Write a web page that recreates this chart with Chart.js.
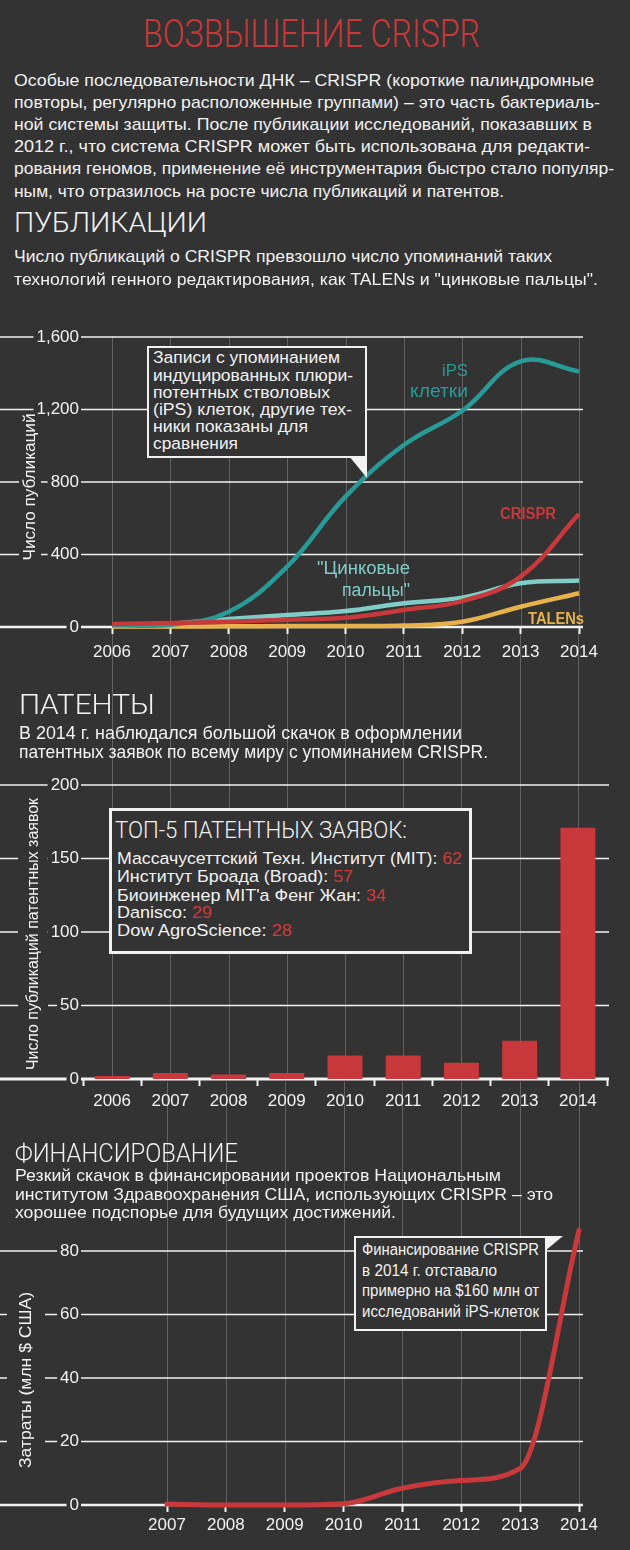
<!DOCTYPE html>
<html><head><meta charset="utf-8">
<script src="https://cdn.jsdelivr.net/npm/chart.js@4"></script>
<style>
html,body{margin:0;padding:0;}
body{width:630px;height:1550px;background:#333333;position:relative;overflow:hidden;font-family:'Liberation Sans',Arial,sans-serif;color:#f2f2f2;}
canvas{position:absolute;left:0;}
.t{position:absolute;white-space:nowrap;transform-origin:0 0;z-index:6;}
.h{font-family:Roboto,'Liberation Sans',sans-serif;font-weight:300;}
.rt{position:absolute;white-space:nowrap;z-index:5;text-align:center;}
.box{position:absolute;box-sizing:border-box;border:2px solid #f2f2f2;background:#333333;z-index:5;}
.tri{position:absolute;background:#f2f2f2;z-index:5;}
.r{color:#d0393b;}
</style></head><body>
<canvas id="c1" width="630" height="370" style="top:300px;z-index:3"></canvas>
<canvas id="c2" width="630" height="490" style="top:630px;z-index:2"></canvas>
<canvas id="c3" width="630" height="468" style="top:1082px;z-index:1"></canvas>

<div class="t h" data-x="143" data-b="48" data-fs="39" data-w="337" style="color:#c9383a">ВОЗВЫШЕНИЕ CRISPR</div>
<div class="t" data-x="14" data-b="86" data-fs="17" data-w="580">Особые последовательности ДНК – CRISPR (короткие палиндромные</div>
<div class="t" data-x="14" data-b="108.2" data-fs="17" data-w="586">повторы, регулярно расположенные группами) – это часть бактериаль-</div>
<div class="t" data-x="14" data-b="130.4" data-fs="17" data-w="578">ной системы защиты. После публикации исследований, показавших в</div>
<div class="t" data-x="14" data-b="152.6" data-fs="17" data-w="576">2012 г., что система CRISPR может быть использована для редакти-</div>
<div class="t" data-x="14" data-b="174.8" data-fs="17" data-w="600">рования геномов, применение её инструментария быстро стало популяр-</div>
<div class="t" data-x="14" data-b="197" data-fs="17" data-w="490">ным, что отразилось на росте числа публикаций и патентов.</div>

<div class="t h" data-x="14" data-b="233" data-fs="28" data-w="193">ПУБЛИКАЦИИ</div>
<div class="t" data-x="14" data-b="261.5" data-fs="16.5" data-w="538">Число публикаций о CRISPR превзошло число упоминаний таких</div>
<div class="t" data-x="14" data-b="284.5" data-fs="16.5" data-w="584">технологий генного редактирования, как TALENs и "цинковые пальцы".</div>

<div class="rt" data-cx="30" data-cy="487" data-l="147" data-fs="17" data-h="18">Число публикаций</div>

<div class="box" style="left:147px;top:346px;width:220px;height:112px"></div>
<div class="tri" style="left:349px;top:456px;width:18px;height:22px;clip-path:polygon(0 0,100% 0,100% 100%)"></div>
<div class="t" data-x="153" data-b="363" data-fs="16.3" data-w="187">Записи с упоминанием</div>
<div class="t" data-x="153" data-b="380.8" data-fs="16.3" data-w="200">индуцированных плюри-</div>
<div class="t" data-x="153" data-b="398" data-fs="16.3" data-w="177">потентных стволовых</div>
<div class="t" data-x="153" data-b="415" data-fs="16.3" data-w="199">(iPS) клеток, другие тех-</div>
<div class="t" data-x="153" data-b="432" data-fs="16.3" data-w="155">ники показаны для</div>
<div class="t" data-x="153" data-b="448.5" data-fs="16.3" data-w="85">сравнения</div>

<div class="t" data-x="442" data-b="376.7" data-fs="17" data-w="26" style="color:#289b98">iPS</div>
<div class="t" data-x="410" data-b="397.7" data-fs="18" data-w="58" style="color:#289b98">клетки</div>
<div class="t" data-x="500" data-b="520" data-fs="16" data-w="56" style="color:#c9383a;font-weight:bold">CRISPR</div>
<div class="t" data-x="317" data-b="574.3" data-fs="18" data-w="93" style="color:#80cdc7">"Цинковые</div>
<div class="t" data-x="342" data-b="596" data-fs="18" data-w="68" style="color:#80cdc7">пальцы"</div>
<div class="t" data-x="528" data-b="624.3" data-fs="16" data-w="56" style="color:#e7b24c;font-weight:bold">TALENs</div>

<div class="t h" data-x="19" data-b="714.5" data-fs="27" data-w="136">ПАТЕНТЫ</div>
<div class="t" data-x="19" data-b="740" data-fs="17.5" data-w="443">В 2014 г. наблюдался большой скачок в оформлении</div>
<div class="t" data-x="19" data-b="758.5" data-fs="17.5" data-w="469">патентных заявок по всему миру с упоминанием CRISPR.</div>

<div class="rt" data-cx="33" data-cy="934" data-l="272" data-fs="16" data-h="18">Число публикаций патентных заявок</div>

<div class="box" style="left:109px;top:808px;width:363px;height:146px;border-width:3px"></div>
<div class="t h" data-x="115" data-b="838" data-fs="23" data-w="292">ТОП-5 ПАТЕНТНЫХ ЗАЯВОК:</div>
<div class="t" data-x="117" data-b="864.3" data-fs="16.3" data-w="345">Массачусеттский Техн. Институт (MIT): <span class="r">62</span></div>
<div class="t" data-x="117" data-b="882.3" data-fs="16.3" data-w="236">Институт Броада (Broad): <span class="r">57</span></div>
<div class="t" data-x="117" data-b="900.5" data-fs="16.3" data-w="269">Биоинженер MIT'а Фенг Жан: <span class="r">34</span></div>
<div class="t" data-x="117" data-b="918.3" data-fs="16.3" data-w="95">Danisco: <span class="r">29</span></div>
<div class="t" data-x="117" data-b="936" data-fs="16.3" data-w="175">Dow AgroScience: <span class="r">28</span></div>

<div class="t h" data-x="15" data-b="1162" data-fs="26" data-w="223">ФИНАНСИРОВАНИЕ</div>
<div class="t" data-x="15" data-b="1181.5" data-fs="17" data-w="486">Резкий скачок в финансировании проектов Национальным</div>
<div class="t" data-x="15" data-b="1200" data-fs="17" data-w="538">институтом Здравоохранения США, использующих CRISPR – это</div>
<div class="t" data-x="15" data-b="1218.5" data-fs="17" data-w="381">хорошее подспорье для будущих достижений.</div>

<div class="rt" data-cx="26" data-cy="1380" data-l="176" data-fs="17" data-h="18">Затраты (млн $ США)</div>

<div class="box" style="left:354px;top:1236px;width:193px;height:95px"></div>
<div class="tri" style="left:545px;top:1236px;width:18px;height:15px;clip-path:polygon(0 0,100% 0,0 100%)"></div>
<div class="t" data-x="362" data-b="1255" data-fs="16.3" data-w="177">Финансирование CRISPR</div>
<div class="t" data-x="362" data-b="1275.5" data-fs="16.3" data-w="135">в 2014 г. отставало</div>
<div class="t" data-x="362" data-b="1296" data-fs="16.3" data-w="177">примерно на $160 млн от</div>
<div class="t" data-x="362" data-b="1316.7" data-fs="16.3" data-w="177">исследований iPS-клеток</div>

<script>
// ---------- DATA ----------
const pubYears = [2006, 2007, 2008, 2009, 2010, 2011, 2012, 2013, 2014];
const pubYearLabels = ['2006', '2007', '2008', '2009', '2010', '2011', '2012', '2013', '2014'];
const ipsPubs = [10, 13, 84, 333, 719, 1004, 1193, 1465, 1409];
const crisprPubs = [16, 22, 29, 40, 51, 94, 143, 278, 623];
const zincPubs = [10, 18, 44, 66, 88, 131, 162, 241, 256];
const talenPubs = [3, 3, 4, 5, 6, 8, 29, 112, 186];
const pubYTicks = [0, 400, 800, 1200, 1600];
const pubYLabels = ['0', '400', '800', '1,200', '1,600'];

const patYearLabels = ['2006', '2007', '2008', '2009', '2010', '2011', '2012', '2013', '2014'];
const patents = [2, 4, 3, 4, 16, 16, 11, 26, 171];
const patYTicks = [0, 50, 100, 150, 200];
const patYLabels = ['0', '50', '100', '150', '200'];

const fundYears = [2007, 2008, 2009, 2010, 2011, 2012, 2013, 2014];
const fundYearLabels = ['2007', '2008', '2009', '2010', '2011', '2012', '2013', '2014'];
const crisprFunding = [0.3, 0, 0, 0.4, 5.3, 7.7, 11.5, 86.5];
const fundYTicks = [0, 20, 40, 60, 80];
const fundYLabels = ['0', '20', '40', '60', '80'];

// ---------- TEXT LAYOUT ----------
document.querySelectorAll('.t').forEach(el => {
  const fs = +el.dataset.fs, x = +el.dataset.x, b = +el.dataset.b, w = +el.dataset.w;
  el.style.fontSize = fs + 'px';
  el.style.lineHeight = fs + 'px';
  el.style.left = x + 'px';
  el.style.top = (b - 0.8467 * fs) + 'px';
  const nat = el.getBoundingClientRect().width;
  el.style.transform = 'scaleX(' + (w / nat) + ')';
});
document.querySelectorAll('.rt').forEach(el => {
  const fs = +el.dataset.fs, cx = +el.dataset.cx, cy = +el.dataset.cy, L = +el.dataset.l, h = +el.dataset.h;
  el.style.fontSize = fs + 'px';
  el.style.lineHeight = h + 'px';
  el.style.height = h + 'px';
  const nat = el.getBoundingClientRect().width;
  el.style.left = (cx - nat / 2) + 'px';
  el.style.top = (cy - h / 2) + 'px';
  el.style.transformOrigin = '50% 50%';
  el.style.transform = 'rotate(-90deg) scaleX(' + (L / nat) + ')';
});

// ---------- CHARTS ----------
const WHITE = '#f2f2f2', GRAYV = '#626262';
const RED = '#c9383a', TEAL = '#289b98', LTEAL = '#80cdc7', ORANGE = '#e7b24c';
const FAMILY = "'Liberation Sans', Arial, sans-serif";
const tickFont = {family: FAMILY, size: 17};

function xy(xs, ys) { return xs.map((x, i) => ({x: x, y: ys[i]})); }

// Draws the full-width horizontal rules (gapped at tick labels and at the axis title)
// and the grey year rules, using the chart's own scales.
const fullGrid = {
  id: 'fullGrid',
  beforeDraw(chart, args, o) {
    const {ctx, chartArea} = chart;
    const xs = chart.scales.x, ys = chart.scales.y;
    ctx.save();
    ctx.strokeStyle = GRAYV;
    ctx.lineWidth = 1;
    const top = o.vTop === 'area' ? chartArea.top : o.vTop;
    xs.ticks.forEach((t, i) => {
      const px = Math.round(xs.getPixelForTick(i)) + 0.5;
      ctx.beginPath(); ctx.moveTo(px, top); ctx.lineTo(px, chartArea.bottom); ctx.stroke();
    });
    ctx.strokeStyle = WHITE;
    ctx.font = '17px ' + FAMILY;
    const g = ys.options.grid;
    const lr = ys.right - (g.drawTicks ? g.tickLength : 0) - ys.options.ticks.padding;
    const tg = o.titleGap;
    ys.ticks.forEach(t => {
      const py = ys.getPixelForValue(t.value);
      const w = ctx.measureText(t.label).width;
      ctx.lineWidth = t.value === 0 ? o.zw : o.lw;
      ctx.beginPath();
      if (tg && py >= tg.y0 && py <= tg.y1) {
        ctx.moveTo(0, py); ctx.lineTo(tg.x0, py);
        ctx.moveTo(tg.x1, py); ctx.lineTo(lr - w - 3, py);
      } else {
        ctx.moveTo(0, py); ctx.lineTo(lr - w - 3, py);
      }
      ctx.moveTo(lr + 2, py); ctx.lineTo(o.hRight, py);
      ctx.stroke();
    });
    ctx.restore();
  }
};

function xAxisGrid() {
  return {display: true, drawOnChartArea: false, drawTicks: true, tickLength: 7, tickWidth: 2, tickColor: WHITE};
}
function yAxisGrid(gap) {
  return {display: false, drawTicks: true, tickLength: gap};
}

Chart.defaults.font.family = FAMILY;

new Chart(document.getElementById('c1'), {
  type: 'line',
  data: {datasets: [
    {data: xy(pubYears, crisprPubs), borderColor: RED, order: 0, clip: false},
    {data: xy(pubYears, ipsPubs), borderColor: TEAL, order: 1, clip: false},
    {data: xy(pubYears, zincPubs), borderColor: LTEAL, order: 2, clip: false},
    {data: xy(pubYears, talenPubs), borderColor: ORANGE, order: 3, clip: false}
  ]},
  options: {
    responsive: false, animation: false, events: [],
    layout: {padding: {top: 37, right: 51, left: 0, bottom: 0}},
    elements: {point: {radius: 0}, line: {borderWidth: 4.5, tension: 0.4, fill: false}},
    plugins: {legend: {display: false}, tooltip: {enabled: false},
      fullGrid: {vTop: 'area', hRight: 583, lw: 1.6, zw: 2.4, titleGap: {x0: 19, x1: 41, y0: 110, y1: 263}}},
    scales: {
      x: {type: 'linear', min: 2006, max: 2014,
        afterBuildTicks: s => { s.ticks = pubYears.map(v => ({value: v})); },
        afterFit: s => { s.height = 43; },
        ticks: {callback: (v, i) => pubYearLabels[i], color: WHITE, font: tickFont, padding: 8, maxRotation: 0, autoSkip: false},
        grid: xAxisGrid(), border: {display: false}},
      y: {type: 'linear', min: 0, max: 1600,
        afterBuildTicks: s => { s.ticks = pubYTicks.map(v => ({value: v})); },
        afterFit: s => { s.width = 112; },
        ticks: {callback: (v, i) => pubYLabels[i], color: WHITE, font: tickFont, padding: 0},
        grid: yAxisGrid(33), border: {display: false}}
    }
  },
  plugins: [fullGrid]
});

new Chart(document.getElementById('c2'), {
  type: 'bar',
  data: {labels: patYearLabels, datasets: [
    {data: patents, backgroundColor: RED, barPercentage: 0.6, categoryPercentage: 1}
  ]},
  options: {
    responsive: false, animation: false, events: [],
    layout: {padding: {top: 155, right: 23, left: 0, bottom: 0}},
    plugins: {legend: {display: false}, tooltip: {enabled: false},
      fullGrid: {vTop: 0, hRight: 609, lw: 1.6, zw: 2.8, titleGap: {x0: 18, x1: 48, y0: 165, y1: 443}}},
    scales: {
      x: {type: 'category', offset: true,
        afterFit: s => { s.height = 41; },
        ticks: {color: WHITE, font: tickFont, padding: 5, maxRotation: 0, autoSkip: false},
        grid: xAxisGrid(), border: {display: false}},
      y: {type: 'linear', min: 0, max: 200,
        afterBuildTicks: s => { s.ticks = patYTicks.map(v => ({value: v})); },
        afterFit: s => { s.width = 83; },
        ticks: {callback: (v, i) => patYLabels[i], color: WHITE, font: tickFont, padding: 0},
        grid: yAxisGrid(4), border: {display: false}}
    }
  },
  plugins: [fullGrid]
});

new Chart(document.getElementById('c3'), {
  type: 'line',
  data: {datasets: [
    {data: xy(fundYears, crisprFunding), borderColor: RED, borderWidth: 5, cubicInterpolationMode: 'monotone', borderCapStyle: 'round', clip: false}
  ]},
  options: {
    responsive: false, animation: false, events: [],
    layout: {padding: {top: 137.25, right: 51, left: 0, bottom: 0}},
    elements: {point: {radius: 0}, line: {fill: false}},
    plugins: {legend: {display: false}, tooltip: {enabled: false},
      fullGrid: {vTop: 0, hRight: 583, lw: 1.6, zw: 2.4, titleGap: {x0: 7, x1: 45, y0: 205, y1: 390}}},
    scales: {
      x: {type: 'linear', min: 2007, max: 2014,
        afterBuildTicks: s => { s.ticks = fundYears.map(v => ({value: v})); },
        afterFit: s => { s.height = 45; },
        ticks: {callback: (v, i) => fundYearLabels[i], color: WHITE, font: tickFont, padding: 3, maxRotation: 0, autoSkip: false},
        grid: xAxisGrid(), border: {display: false}},
      y: {type: 'linear', min: 0, max: 90,
        afterBuildTicks: s => { s.ticks = fundYTicks.map(v => ({value: v})); },
        afterFit: s => { s.width = 167; },
        ticks: {callback: (v, i) => fundYLabels[i], color: WHITE, font: tickFont, padding: 0},
        grid: yAxisGrid(88), border: {display: false}}
    }
  },
  plugins: [fullGrid]
});
</script>
</body></html>
